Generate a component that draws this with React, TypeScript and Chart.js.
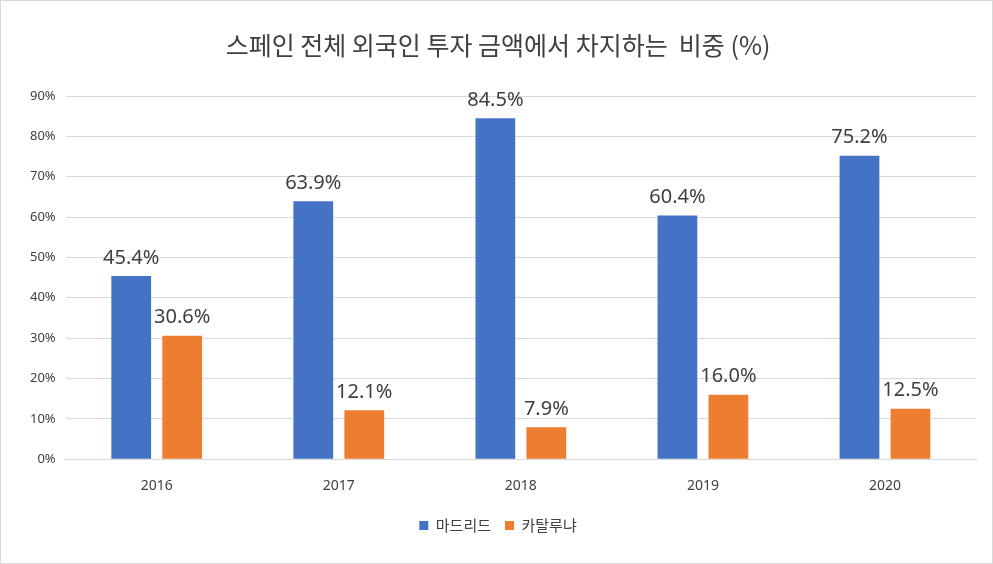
import React, { useEffect, useRef } from "react";
import { Chart, registerables } from "chart.js";
Chart.register(...registerables);

const categories = ["2016", "2017", "2018", "2019", "2020"];
const madrid = [45.4, 63.9, 84.5, 60.4, 75.2];
const catalonia = [30.6, 12.1, 7.9, 16.0, 12.5];
const seriesNames = ["마드리드", "카탈루냐"];
const title = "스페인 전체 외국인 투자 금액에서 차지하는  비중 (%)";

const labelPlugin = {
  id: "labels",
  afterDatasetsDraw(chart: any) {
    const ctx = chart.ctx;
    ctx.save();
    ctx.font = "20px 'Noto Sans', sans-serif";
    ctx.fillStyle = "#404040";
    ctx.textAlign = "center";
    ctx.textBaseline = "bottom";
    chart.data.datasets.forEach((ds: any, i: number) => {
      chart.getDatasetMeta(i).data.forEach((el: any, j: number) => {
        ctx.fillText(ds.data[j].toFixed(1) + "%", el.x, el.y - 8);
      });
    });
    ctx.restore();
  },
};

export default function App() {
  const ref = useRef<HTMLCanvasElement>(null);
  useEffect(() => {
    document.body.style.margin = "0";
    const chart = new Chart(ref.current!, {
      type: "bar",
      data: {
        labels: categories,
        datasets: [
          { label: seriesNames[0], data: madrid, backgroundColor: "#4472C4" },
          { label: seriesNames[1], data: catalonia, backgroundColor: "#ED7D31" },
        ],
      },
      options: {
        animation: false,
        responsive: false,
        maintainAspectRatio: false,
        layout: { padding: { left: 19, right: 16, top: 4, bottom: 20 } },
        datasets: { bar: { categoryPercentage: 0.56, barPercentage: 0.78 } },
        plugins: {
          title: {
            display: true,
            text: title,
            color: "#404040",
            font: { size: 25, family: "'Noto Sans CJK KR', sans-serif", weight: "normal" },
            padding: { top: 25, bottom: 36 },
          },
          legend: {
            position: "bottom",
            labels: {
              boxWidth: 9,
              boxHeight: 9,
              color: "#404040",
              font: { size: 15, family: "'Noto Sans CJK KR', sans-serif" },
              padding: 14,
            },
          },
          tooltip: { enabled: false },
        },
        scales: {
          x: {
            grid: { display: false },
            border: { color: "#d9d9d9" },
            ticks: { color: "#404040", font: { size: 14, family: "'Noto Sans', sans-serif" }, padding: 10 },
          },
          y: {
            min: 0,
            max: 90,
            ticks: {
              stepSize: 10,
              color: "#404040",
              font: { size: 13, family: "'Noto Sans', sans-serif" },
              callback: (v: any) => v + "%",
              padding: 10,
            },
            grid: { color: "#d9d9d9", drawTicks: false },
            border: { display: false },
          },
        },
      },
      plugins: [labelPlugin],
    } as any);
    return () => chart.destroy();
  }, []);
  return (
    <div style={{ width: 991, height: 562, border: "1px solid #d9d9d9", background: "#fff" }}>
      <canvas ref={ref} width={991} height={562} />
    </div>
  );
}
